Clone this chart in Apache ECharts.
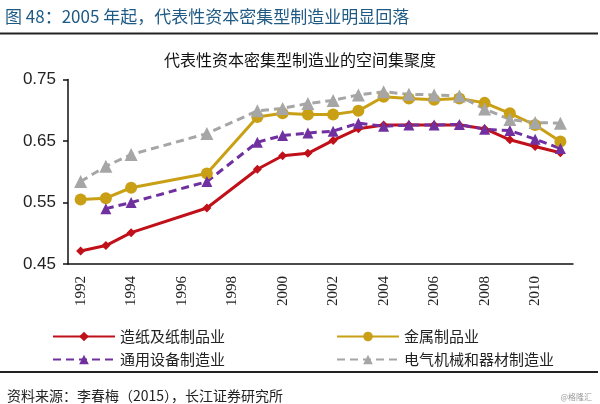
<!DOCTYPE html>
<html>
<head>
<meta charset="utf-8">
<script src="https://cdn.jsdelivr.net/npm/echarts@6/dist/echarts.min.js"></script>
<style>
html,body{margin:0;padding:0;background:#fff;}
#c{width:600px;height:404px;}
</style>
</head>
<body>
<div id="c"></div>
<script>
const years = ['1992','1993','1994','1995','1996','1997','1998','1999','2000','2001','2002','2003','2004','2005','2006','2007','2008','2009','2010','2011'];
const seriesNames = ['造纸及纸制品业','金属制品业','通用设备制造业','电气机械和器材制造业'];
const paper   = [0.471,0.480,0.501,'-','-',0.541,'-',0.604,0.626,0.630,0.651,0.670,0.676,0.676,0.676,0.676,0.670,0.652,0.641,0.631];
const metal   = [0.555,0.557,0.574,'-','-',0.597,'-',0.689,0.695,0.693,0.693,0.699,0.722,0.719,0.717,0.719,0.712,0.695,0.676,0.649];
const equip   = ['-',0.540,0.550,'-','-',0.584,'-',0.648,0.659,0.663,0.666,0.679,0.674,0.676,0.676,0.677,0.669,0.667,0.653,0.638];
const electric= [0.584,0.609,0.628,'-','-',0.662,'-',0.699,0.703,0.711,0.716,0.725,0.730,0.726,0.725,0.723,0.702,0.685,0.680,0.679];
const yTicks = {min:0.45, max:0.75, interval:0.1};

const chart = echarts.init(document.getElementById('c'));
const colors = ['#C0101A','#C9A015','#7030A0','#A6A6A6'];
function mk(name, data, color, symbol, size, dashed){
  return {
    name: name, type:'line', data: data, connectNulls:true,
    symbol: symbol, symbolSize: size,
    itemStyle:{color:color},
    lineStyle:{color:color, width:3, type: dashed ? [8,5] : 'solid'},
    emphasis:{disabled:true}, animation:false
  };
}
chart.setOption({
  animation:false,
  title:[
    {text:'图 48：2005 年起，代表性资本密集型制造业明显回落', left:0, top:3,
     textStyle:{fontFamily:'Noto Sans CJK SC', fontSize:17, fontWeight:'normal', color:'#1F5A85'}},
    {text:'代表性资本密集型制造业的空间集聚度', left:'center', top:47, 
     textStyle:{fontFamily:'Noto Sans CJK SC', fontSize:16, fontWeight:'normal', color:'#111'}},
    {text:'资料来源：李春梅（2015），长江证券研究所', left:2, top:384,
     textStyle:{fontFamily:'Noto Sans CJK SC', fontSize:14, fontWeight:'normal', color:'#222'}},
    {text:'@格隆汇', right:3, top:388,
     textStyle:{fontFamily:'Noto Sans CJK SC', fontSize:8, fontWeight:'normal', color:'#999'}}
  ],
  graphic:[
    {type:'line', shape:{x1:0,y1:33.5,x2:598,y2:33.5}, style:{stroke:'#222', lineWidth:2}},
    {type:'line', shape:{x1:0,y1:372,x2:598,y2:372}, style:{stroke:'#222', lineWidth:2}}
  ],
  color: colors,
  legend:[
    {data:[seriesNames[0], seriesNames[2]], orient:'vertical', left:47, top:324, itemWidth:62, itemHeight:12, itemGap:8,
     textStyle:{fontFamily:'Noto Sans CJK SC', fontSize:15, color:'#222'}},
    {data:[seriesNames[1], seriesNames[3]], orient:'vertical', left:331, top:324, itemWidth:62, itemHeight:12, itemGap:8,
     textStyle:{fontFamily:'Noto Sans CJK SC', fontSize:15, color:'#222'}}
  ],
  grid:{left:68, right:27, top:79.5, bottom:140},
  xAxis:{
    type:'category', data:years, boundaryGap:true,
    axisLine:{lineStyle:{color:'#111', width:1.5}},
    axisTick:{interval:1, length:5, lineStyle:{color:'#111', width:1.5}},
    axisLabel:{interval:1, rotate:90, margin:12, fontFamily:'Liberation Serif', fontSize:15, color:'#222'}
  },
  yAxis:{
    type:'value', min:yTicks.min, max:yTicks.max, interval:yTicks.interval,
    axisLine:{show:true, lineStyle:{color:'#111', width:1.5}},
    axisTick:{show:true, length:5, lineStyle:{color:'#111', width:1.5}},
    splitLine:{show:false},
    axisLabel:{formatter:v=>v.toFixed(2), margin:12, fontFamily:'Liberation Sans', fontSize:17, color:'#222'}
  },
  series:[
    mk(seriesNames[0], paper, colors[0], 'diamond', 9, false),
    mk(seriesNames[1], metal, colors[1], 'circle', 12, false),
    mk(seriesNames[2], equip, colors[2], 'triangle', 11, true),
    mk(seriesNames[3], electric, colors[3], 'triangle', 13, true)
  ]
});
</script>
</body>
</html>
